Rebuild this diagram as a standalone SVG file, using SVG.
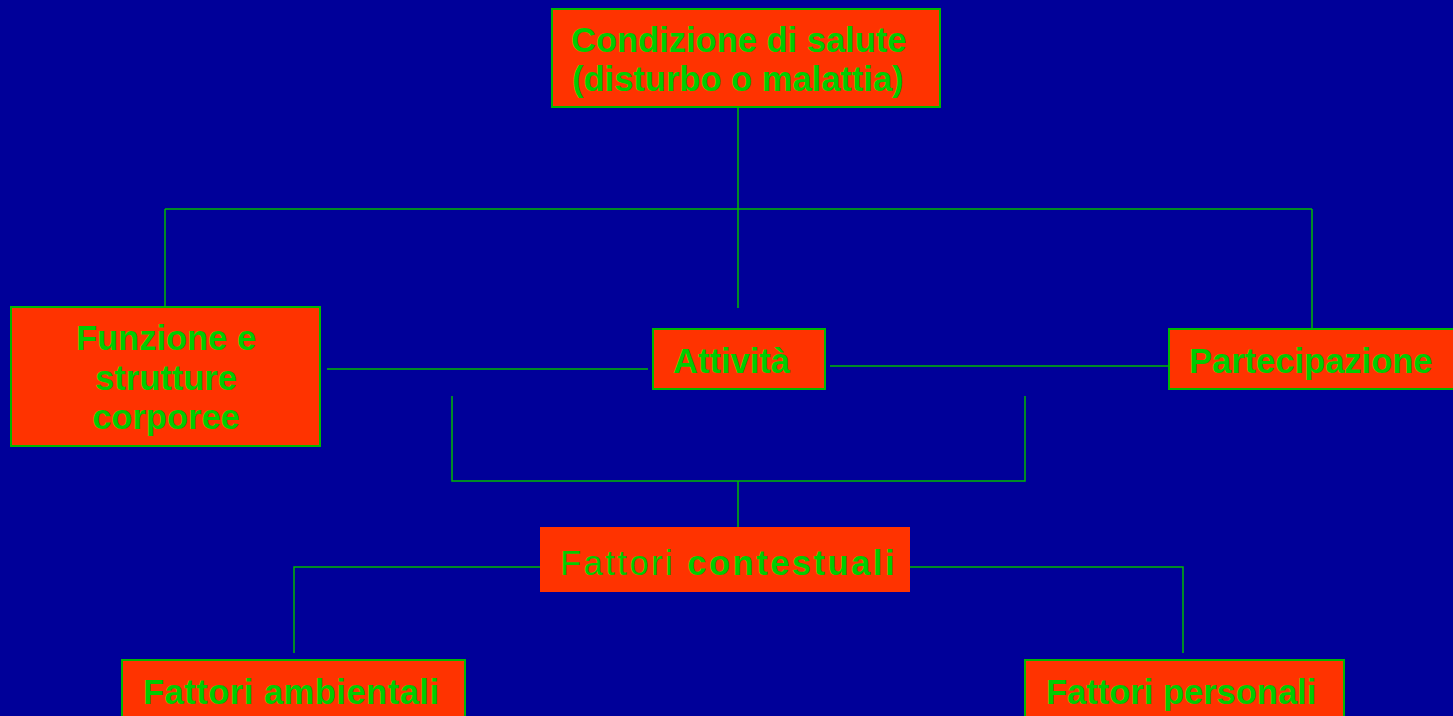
<svg xmlns="http://www.w3.org/2000/svg" width="1453" height="716" viewBox="0 0 1453 716">
<style>
.box{fill:#FF3300;stroke:#00B800;stroke-width:2}
.plain{fill:#FF3300}
.t{font-family:"Liberation Sans",Arial,sans-serif;font-size:34.5px;font-weight:bold;fill:#00CC00}
.r{font-weight:normal}
.c{stroke:#00B800;stroke-width:1.5;fill:none}
</style>
<rect width="1453" height="716" fill="#000099"/>
<g id="connectors">
<path class="c" d="M738 107V308"/>
<path class="c" d="M165 209H1312"/>
<path class="c" d="M165 209V307"/>
<path class="c" d="M1312 209V329"/>
<path class="c" d="M327 369H648"/>
<path class="c" d="M830 366H1169"/>
<path class="c" d="M452 396V481H1025V396"/>
<path class="c" d="M738 481V527"/>
<path class="c" d="M540 567H294V653"/>
<path class="c" d="M910 567H1183V653"/>
</g>
<g id="condizione">
<rect class="box" x="552" y="9" width="388" height="98"/>
<text class="t" x="571" y="52">Condizione di salute</text>
<text class="t" x="572" y="91">(disturbo o malattia)</text>
</g>
<g id="funzione">
<rect class="box" x="11" y="307" width="309" height="139"/>
<text class="t" x="166" y="350" text-anchor="middle">Funzione e</text>
<text class="t" x="166" y="390" text-anchor="middle">strutture</text>
<text class="t" x="166" y="429" text-anchor="middle">corporee</text>
</g>
<g id="attivita">
<rect class="box" x="653" y="329" width="172" height="60"/>
<text class="t" x="673" y="373">Attività</text>
</g>
<g id="partecipazione">
<rect class="box" x="1169" y="329" width="290" height="60"/>
<text class="t" x="1189" y="373">Partecipazione</text>
</g>
<g id="contestuali">
<rect class="plain" x="540" y="527" width="370" height="65"/>
<text class="t" x="560" y="575" style="letter-spacing:2.5px"><tspan class="r">Fattori </tspan>contestuali</text>
</g>
<g id="ambientali">
<rect class="box" x="122" y="660" width="343" height="70"/>
<text class="t" x="143" y="704" style="letter-spacing:0.5px">Fattori ambientali</text>
</g>
<g id="personali">
<rect class="box" x="1025" y="660" width="319" height="70"/>
<text class="t" x="1046" y="704">Fattori personali</text>
</g>
</svg>
